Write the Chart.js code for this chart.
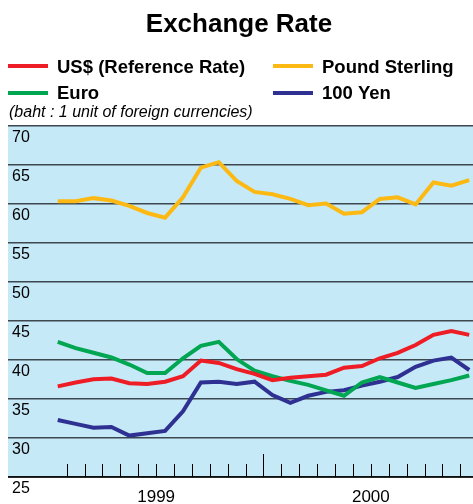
<!DOCTYPE html>
<html>
<head>
<meta charset="utf-8">
<script src="https://cdn.jsdelivr.net/npm/chart.js@4"></script>
<style>
html,body{margin:0;padding:0;background:#fff;overflow:hidden;}
#wrap{width:473px;height:504px;position:relative;}
</style>
</head>
<body>
<div id="wrap"><canvas id="c" width="473" height="504"></canvas></div>
<script>
// ---- data (baht per 1 unit of foreign currency), Jan 1999 .. Dec 2000 ----
const months = ['Jan 99','Feb 99','Mar 99','Apr 99','May 99','Jun 99','Jul 99','Aug 99','Sep 99','Oct 99','Nov 99','Dec 99',
                'Jan 00','Feb 00','Mar 00','Apr 00','May 00','Jun 00','Jul 00','Aug 00','Sep 00','Oct 00','Nov 00','Dec 00'];
const usd    = [36.6,37.1,37.5,37.6,37.0,36.9,37.2,37.9,39.9,39.6,38.8,38.2, 37.4,37.7,37.9,38.1,39.0,39.2,40.2,40.9,41.9,43.2,43.7,43.2];
const pound  = [60.3,60.3,60.7,60.4,59.7,58.8,58.2,60.8,64.6,65.3,62.9,61.5, 61.2,60.6,59.8,60.0,58.7,58.9,60.6,60.8,59.9,62.7,62.3,63.0];
const euro   = [42.3,41.5,40.9,40.3,39.4,38.3,38.3,40.2,41.8,42.3,40.1,38.6, 37.9,37.3,36.8,36.1,35.4,37.1,37.8,37.1,36.4,36.9,37.4,38.0];
const yen100 = [32.3,31.8,31.3,31.4,30.3,30.6,30.9,33.4,37.1,37.2,36.9,37.2, 35.5,34.5,35.4,35.9,36.1,36.7,37.2,37.8,39.1,39.9,40.3,38.7];
const yTicks = [25,30,35,40,45,50,55,60,65,70];
const years  = ['1999','2000'];
const seriesNames = ['US$ (Reference Rate)','Pound Sterling','Euro','100 Yen'];
const titleText = 'Exchange Rate';
const unitText = '(baht : 1 unit of foreign currencies)';

const colors = ['#ee1c25','#fdb913','#00a651','#2e3192'];
const seriesData = [usd, pound, euro, yen100];

const FONT = '"Liberation Sans", Arial, Helvetica, sans-serif';

const decor = {
  id: 'decor',
  beforeDraw(chart) {
    const {ctx, chartArea: a} = chart;
    ctx.save();
    ctx.fillStyle = '#c6e9f8';
    ctx.fillRect(a.left, a.top, a.right - a.left, a.bottom - a.top);
    ctx.restore();
  },
  afterDraw(chart) {
    const {ctx, chartArea: a} = chart;
    const xs = chart.scales.x;
    ctx.save();
    // title
    ctx.fillStyle = '#000';
    ctx.textAlign = 'center';
    ctx.textBaseline = 'alphabetic';
    ctx.font = 'bold 26px ' + FONT;
    ctx.fillText(titleText, 239, 31.5);
    // legend
    const pos = [[8,66,72.7],[273,66,72.7],[8,93,99.3],[273,93,99.3]];
    ctx.font = 'bold 18.5px ' + FONT;
    ctx.textAlign = 'left';
    chart.data.datasets.forEach((ds, i) => {
      const [lx, ly, by] = pos[i];
      ctx.strokeStyle = ds.borderColor;
      ctx.lineWidth = 4;
      ctx.beginPath();
      ctx.moveTo(lx, ly); ctx.lineTo(lx + 40, ly);
      ctx.stroke();
      ctx.fillStyle = '#000';
      ctx.fillText(ds.label, lx + 49, by);
    });
    // unit note
    ctx.font = 'italic 16px ' + FONT;
    ctx.fillText(unitText, 9, 116.5);
    // bottom axis line
    ctx.strokeStyle = '#000';
    ctx.lineWidth = 1.5;
    ctx.beginPath();
    ctx.moveTo(a.left, a.bottom); ctx.lineTo(a.right, a.bottom);
    ctx.stroke();
    // month ticks (category boundaries)
    ctx.lineWidth = 1;
    for (let i = 0; i < months.length - 1; i++) {
      const x = Math.round(xs.getPixelForValue(i + 0.5)) + 0.5;
      const len = (i === 11) ? 23 : 13;
      ctx.beginPath();
      ctx.moveTo(x, a.bottom); ctx.lineTo(x, a.bottom - len);
      ctx.stroke();
    }
    // year labels centred on each year's months
    ctx.font = '17px ' + FONT;
    ctx.textAlign = 'center';
    ctx.fillStyle = '#000';
    years.forEach((y, k) => {
      const x = xs.getPixelForValue(k * 12 + 5.5);
      ctx.fillText(y, x, 502);
    });
    ctx.restore();
  }
};

new Chart(document.getElementById('c'), {
  type: 'line',
  data: {
    labels: months,
    datasets: seriesData.map((arr, i) => ({
      label: seriesNames[i],
      data: arr.map((v, j) => ({x: j, y: v})),
      borderColor: colors[i],
      backgroundColor: colors[i],
      borderWidth: 4,
      pointRadius: 0,
      tension: 0,
      fill: false,
      borderJoinStyle: 'miter',
      borderCapStyle: 'butt'
    }))
  },
  options: {
    responsive: false,
    animation: false,
    layout: {padding: {left: 0, right: 0, top: 125.5, bottom: 27}},
    plugins: {legend: {display: false}, title: {display: false}, tooltip: {enabled: false}},
    scales: {
      x: {
        type: 'linear',
        display: false,
        min: -2.78,
        max: 23.21
      },
      y: {
        type: 'linear',
        min: 25,
        max: 70,
        position: 'left',
        afterBuildTicks: (s) => { s.ticks = yTicks.map(v => ({value: v})); },
        border: {display: false},
        grid: {color: '#3d4750', lineWidth: 1.5, drawTicks: false},
        ticks: {
          mirror: true,
          padding: 4,
          labelOffset: 12,
          color: '#000',
          font: {family: FONT, size: 16},
          callback: (v) => String(v)
        }
      }
    }
  },
  plugins: [decor]
});
</script>
</body>
</html>
